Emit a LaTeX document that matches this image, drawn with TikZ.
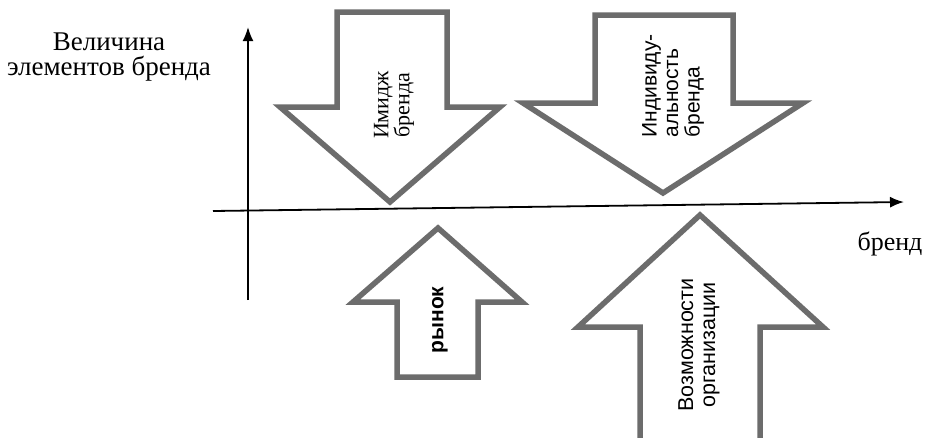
\documentclass[tikz,border=0pt]{standalone}
\usepackage{fontspec}
\setmainfont{Liberation Serif}
\setsansfont{Liberation Sans}
\usetikzlibrary{arrows.meta}
\definecolor{outl}{RGB}{108,108,108}
\tikzset{
  bigarrow/.style={draw=outl, line width=5.5pt, fill=white, line join=miter},
  axisline/.style={draw=black, line width=1.8pt, -{Latex[length=14pt,width=11pt]}},
  lbl/.style={font=\fontsize{27}{25}\selectfont, inner sep=0pt},
  rlbl/.style={rotate=90, inner sep=0pt, font=\fontsize{21}{21}\selectfont},
}
\begin{document}
\begin{tikzpicture}[x=1pt,y=-1pt]
\useasboundingbox (0,0) rectangle (927,437);
\fill[white] (0,0) rectangle (927,437);
% arrows (shapes)
\draw[bigarrow] (337,12) -- (447,12) -- (447,107) -- (500,107) -- (390,202) -- (280,107) -- (337,107) -- cycle;
\draw[bigarrow] (595,15) -- (733,15) -- (733,103) -- (803,103) -- (663,193) -- (523,103) -- (595,103) -- cycle;
\draw[bigarrow] (397,377) -- (478,377) -- (478,302) -- (522,302) -- (438,228) -- (353,302) -- (397,302) -- cycle;
\draw[bigarrow] (640,450) -- (760,450) -- (760,327) -- (823,327) -- (700,215) -- (578,327) -- (640,327) -- cycle;
% axes
\coordinate (yb) at (248,300);
\coordinate (yt) at (248,27);
\coordinate (xl) at (213,211);
\coordinate (xr) at (904,202);
\draw[axisline] (yb) -- (yt);
\draw[axisline] (xl) -- (xr);
% labels
\node[lbl, align=center] (ylab) at (109,57) {Величина\\элементов бренда};
\node[lbl, font=\fontsize{26}{26}\selectfont] (xlab) at (890,244) {бренд};
\node[rlbl, align=center, font=\fontsize{22}{20}\selectfont] (t1) at (394,105) {Имидж\\бренда};
\node[rlbl, align=left, font=\sffamily\fontsize{21}{21.5}\selectfont] (t2) at (673,86) {Индивиду-\\альность\\бренда};
\node[rlbl, font=\sffamily\bfseries\fontsize{21}{21}\selectfont] (t3) at (440,320) {рынок};
\node[rlbl, align=center, font=\sffamily\fontsize{21.5}{22}\selectfont] (t4) at (699,345) {Возможности\\организации};
\end{tikzpicture}
\end{document}
